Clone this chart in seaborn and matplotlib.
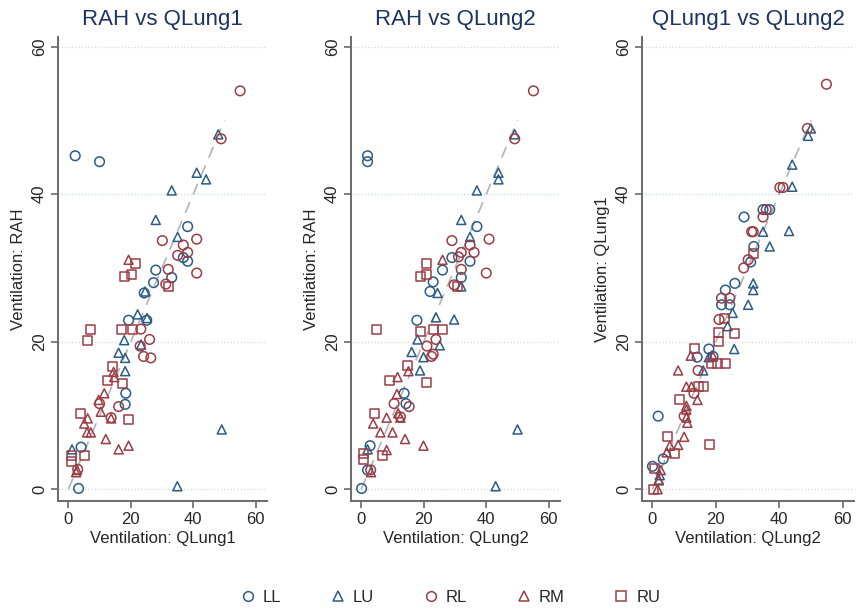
import pandas as pd
import matplotlib
matplotlib.use("Agg")
import matplotlib.pyplot as plt
import seaborn as sns
from matplotlib.lines import Line2D

sns.set_style("white")
plt.rcParams['font.family'] = ['Liberation Sans', 'DejaVu Sans']

lobes = ['LL', 'LU', 'RL', 'RM', 'RU']
ticks = [0, 20, 40, 60]
ref_line = [0, 50]

# RAH vs QLung1  (x = QLung1, y = RAH)
p1_ll = [(2.2, 45.2), (10.0, 44.4), (38.2, 35.6), (36.8, 31.4), (38.2, 30.9), (28.0, 29.7), (33.1, 28.7),
         (27.3, 28.0), (24.3, 26.6), (19.3, 22.9), (25.1, 22.9), (18.4, 13.0), (18.2, 11.5), (4.1, 5.7), (3.3, 0.1)]
p1_lu = [(48.0, 48.1), (41.1, 42.9), (44.1, 42.0), (33.1, 40.5), (28.0, 36.5), (35.0, 34.2), (24.6, 26.8),
         (22.2, 23.7), (25.2, 23.2), (17.9, 20.2), (23.3, 19.6), (16.1, 18.5), (18.2, 17.8), (18.2, 16.0),
         (1.2, 5.4), (34.9, 0.4), (49.1, 8.1)]
p1_rl = [(55.0, 54.0), (48.9, 47.5), (30.1, 33.7), (41.1, 33.9), (36.8, 33.1), (38.2, 32.1), (35.0, 31.7),
         (32.0, 29.8), (41.1, 29.3), (31.2, 27.8), (23.2, 21.7), (26.0, 20.3), (23.0, 19.4), (24.1, 18.0),
         (26.4, 17.8), (10.0, 11.6), (16.1, 11.2), (13.7, 9.7), (3.0, 2.7)]
p1_rm = [(19.3, 31.1), (14.5, 15.9), (14.7, 15.2), (11.5, 13.0), (9.7, 12.1), (10.4, 10.5), (6.2, 9.6),
         (13.7, 9.6), (5.1, 8.9), (6.0, 7.7), (7.2, 7.7), (12.0, 6.8), (16.1, 5.4), (19.3, 5.9), (2.8, 2.6),
         (2.5, 2.3)]
p1_ru = [(21.4, 30.6), (17.9, 28.8), (20.3, 29.1), (32.0, 27.5), (7.2, 21.7), (6.0, 20.2), (16.9, 21.7),
         (20.7, 21.7), (14.0, 16.7), (12.4, 14.8), (17.2, 14.3), (3.8, 10.2), (19.3, 9.4), (0.9, 4.6),
         (0.9, 3.7), (5.1, 4.6)]

# RAH vs QLung2  (x = QLung2, y = RAH)
p2_ll = [(2.0, 45.2), (2.0, 44.4), (37.0, 35.6), (29.0, 31.4), (34.8, 30.9), (26.0, 29.7), (32.0, 28.7),
         (23.0, 28.1), (22.0, 26.8), (17.8, 22.9), (13.7, 13.0), (14.3, 11.6), (2.8, 5.9), (2.0, 2.6), (0.1, 0.1)]
p2_lu = [(49.1, 48.1), (43.9, 42.9), (43.9, 42.0), (37.0, 40.5), (32.0, 36.5), (34.8, 34.2), (32.0, 27.5),
         (24.4, 26.6), (23.9, 23.3), (29.7, 23.0), (18.0, 20.3), (25.1, 19.5), (16.1, 18.6), (19.9, 17.9),
         (18.8, 16.1), (2.0, 5.4), (43.0, 0.4), (50.0, 8.1)]
p2_rl = [(55.1, 54.0), (49.1, 47.5), (29.0, 33.7), (40.9, 33.9), (34.8, 33.1), (36.1, 32.1), (32.0, 32.1),
         (31.1, 31.5), (32.0, 29.8), (40.0, 29.3), (29.7, 27.7), (23.9, 20.3), (21.0, 19.4), (22.5, 18.0),
         (23.0, 18.3), (10.5, 11.6), (15.3, 11.2), (12.5, 9.8), (3.0, 2.6)]
p2_rm = [(26.0, 31.1), (15.1, 16.0), (11.6, 15.2), (11.4, 12.9), (11.8, 10.3), (12.5, 9.7), (8.1, 9.7),
         (3.8, 8.9), (6.1, 7.7), (10.0, 7.7), (14.0, 6.8), (19.9, 5.9), (8.1, 5.3), (3.1, 2.3)]
p2_ru = [(20.9, 30.6), (18.8, 28.8), (21.0, 29.1), (30.8, 27.5), (5.0, 21.7), (19.1, 21.4), (23.0, 21.7),
         (26.0, 21.7), (14.8, 16.8), (8.9, 14.8), (20.9, 14.4), (4.2, 10.2), (6.8, 4.6), (0.7, 4.9), (0.7, 4.0)]

# QLung1 vs QLung2  (x = QLung2, y = QLung1)
p3_ll = [(28.9, 36.9), (34.9, 37.9), (37.0, 37.9), (32.0, 32.9), (31.0, 30.8), (26.0, 27.9), (23.0, 27.0),
         (21.8, 25.0), (24.4, 25.0), (17.8, 19.0), (14.1, 17.9), (19.1, 18.0), (1.8, 9.9), (3.4, 4.1), (0.0, 3.1)]
p3_lu = [(50.0, 48.9), (49.1, 47.9), (44.1, 44.0), (44.1, 41.0), (34.9, 34.9), (43.1, 35.0), (37.0, 32.9),
         (31.8, 27.9), (31.8, 27.0), (30.2, 25.0), (25.3, 23.9), (23.7, 22.1), (25.8, 19.0), (17.8, 17.9),
         (16.0, 16.1), (2.3, 1.9), (2.0, 1.2)]
p3_rl = [(54.9, 54.9), (48.9, 48.9), (40.2, 40.9), (41.2, 40.9), (35.9, 37.9), (34.9, 36.9), (31.3, 34.9),
         (31.8, 34.9), (30.2, 31.1), (28.8, 30.0), (21.8, 25.9), (24.4, 25.9), (21.0, 23.0), (14.4, 16.1),
         (13.1, 13.0), (10.0, 9.9)]
p3_rm = [(12.1, 18.1), (19.1, 18.0), (8.1, 16.1), (10.7, 13.9), (12.3, 13.9), (14.2, 12.1), (10.7, 11.3),
         (10.7, 10.8), (10.7, 9.7), (11.0, 9.0), (10.0, 7.1), (8.1, 6.0), (5.5, 5.9), (4.5, 5.0), (2.6, 2.6),
         (2.0, 1.3), (1.6, 0.0)]
p3_ru = [(32.0, 32.0), (22.8, 23.2), (20.7, 21.2), (26.0, 21.1), (20.9, 20.0), (13.4, 19.1), (18.6, 17.0),
         (20.5, 17.0), (23.0, 17.0), (14.4, 13.9), (16.0, 13.9), (8.6, 12.1), (4.9, 7.1), (18.1, 6.0),
         (7.0, 4.9), (0.7, 2.8), (0.2, 0.0)]

navy = '#2c5c86'
maroon = '#9b3d45'
colors = {'LL': navy, 'LU': navy, 'RL': maroon, 'RM': maroon, 'RU': maroon}
markers = {'LL': 'o', 'LU': '^', 'RL': 'o', 'RM': '^', 'RU': 's'}
sizes = {'o': 48, '^': 42, 's': 42}


def draw_panel(ax, groups, title, xlabel, ylabel):
    for lobe, pts in zip(lobes, groups):
        df = pd.DataFrame(pts, columns=['x', 'y'])
        m = markers[lobe]
        sns.scatterplot(data=df, x='x', y='y', ax=ax, marker=m, s=sizes[m],
                        color=colors[lobe], facecolor='none', edgecolor=colors[lobe],
                        linewidth=1.1, zorder=3)
    ax.plot(ref_line, ref_line, ls=(0, (7, 5)), color='#b3b3b3', lw=1.2, zorder=1)
    ax.set_xlim(-3.3, 63.6)
    ax.set_ylim(-1.6, 61.3)
    ax.set_xticks(ticks)
    ax.set_yticks(ticks)
    ax.set_yticklabels([str(t) for t in ticks], rotation=90, va='center')
    ax.yaxis.grid(True, ls=':', color='#cfd8e3', lw=0.9)
    ax.xaxis.grid(False)
    sns.despine(ax=ax)
    for s in ['left', 'bottom']:
        ax.spines[s].set_color('#6a6a6a')
        ax.spines[s].set_linewidth(1.4)
    ax.tick_params(bottom=True, left=True, direction='out', length=5, width=1.2,
                   color='#6a6a6a', labelsize=12, pad=3)
    ax.set_title(title, fontsize=16, color='#1d3461', pad=9)
    ax.set_xlabel(xlabel, fontsize=12, labelpad=3)
    ax.set_ylabel(ylabel, fontsize=12, labelpad=4)


fig = plt.figure(figsize=(8.57, 6.10), dpi=100)
W, H = 857, 610
ax1 = fig.add_axes([58 / W, 109 / H, 209 / W, 464 / H])
ax2 = fig.add_axes([351 / W, 109 / H, 209 / W, 464 / H])
ax3 = fig.add_axes([642 / W, 109 / H, 212 / W, 464 / H])

draw_panel(ax1, [p1_ll, p1_lu, p1_rl, p1_rm, p1_ru], 'RAH vs QLung1', 'Ventilation: QLung1', 'Ventilation: RAH')
draw_panel(ax2, [p2_ll, p2_lu, p2_rl, p2_rm, p2_ru], 'RAH vs QLung2', 'Ventilation: QLung2', 'Ventilation: RAH')
draw_panel(ax3, [p3_ll, p3_lu, p3_rl, p3_rm, p3_ru], 'QLung1 vs QLung2', 'Ventilation: QLung2', 'Ventilation: QLung1')

handles = [Line2D([], [], ls='none', marker=markers[l], markersize=7, markerfacecolor='none',
                  markeredgecolor=colors[l], markeredgewidth=1.1) for l in lobes]
fig.legend(handles, lobes, loc='center', bbox_to_anchor=(0.525, 13 / H), ncol=5, frameon=False,
           fontsize=12, handlelength=1.0, handletextpad=0.4, columnspacing=2.9)

fig.savefig('out.png', dpi=100)
